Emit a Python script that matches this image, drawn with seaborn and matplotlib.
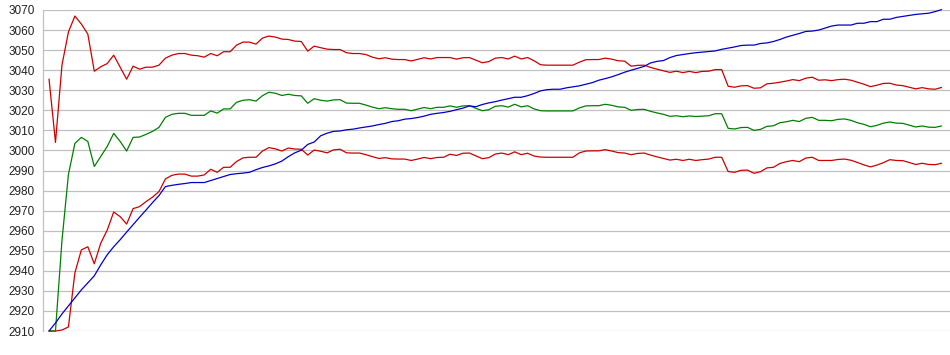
import matplotlib
matplotlib.use("Agg")
import matplotlib.pyplot as plt
import seaborn as sns
import pandas as pd

# values (one point per step)
upper_band = [
    3035.6, 3004.0, 3042.5, 3059.0, 3067.0, 3063.0, 3058.0, 3039.5, 3041.7, 3043.3,
    3047.5, 3041.5, 3035.5, 3042.0, 3040.5, 3041.5, 3041.5, 3042.5, 3046.0, 3047.5,
    3048.3, 3048.3, 3047.5, 3047.2, 3046.5, 3048.3, 3047.2, 3049.2, 3049.2, 3052.5,
    3054.0, 3054.0, 3053.0, 3056.0, 3057.0, 3056.5, 3055.5, 3055.3, 3054.5, 3054.3,
    3049.5, 3052.0, 3051.2, 3050.5, 3050.3, 3050.3, 3048.7, 3048.3, 3048.3, 3047.8,
    3046.5, 3045.7, 3046.2, 3045.5, 3045.3, 3045.3, 3044.6, 3045.4, 3046.2, 3045.6,
    3046.3, 3046.3, 3046.3, 3045.5, 3046.2, 3046.3, 3045.0, 3043.7, 3044.3, 3046.0,
    3046.3, 3045.6, 3047.0, 3045.6, 3046.3, 3044.7, 3042.7, 3042.5, 3042.5, 3042.5,
    3042.5, 3042.5, 3044.0, 3045.2, 3045.3, 3045.3, 3046.0, 3045.5, 3044.7, 3044.5,
    3042.0, 3042.4, 3042.5, 3041.4, 3040.5, 3039.7, 3038.9, 3039.5, 3038.8, 3039.4,
    3038.8, 3039.4, 3039.5, 3040.3, 3040.3, 3032.0, 3031.5, 3032.2, 3032.3, 3031.0,
    3031.2, 3033.2, 3033.5, 3034.0, 3034.6, 3035.3, 3034.8, 3036.0, 3036.5, 3035.0,
    3035.2, 3034.8, 3035.3, 3035.5, 3035.0, 3034.0, 3033.0, 3031.8, 3032.5, 3033.4,
    3033.5, 3032.6, 3032.3, 3031.5, 3030.7, 3031.3, 3030.7, 3030.5, 3031.4,
]

middle = [
    2910.0, 2910.0, 2955.0, 2988.0, 3003.5, 3006.5, 3004.5, 2992.0, 2997.0, 3002.0,
    3008.5, 3004.5, 2999.7, 3006.5, 3006.7, 3008.0, 3009.5, 3011.5, 3016.5, 3018.0,
    3018.5, 3018.5, 3017.5, 3017.5, 3017.5, 3019.7, 3018.6, 3020.7, 3020.7, 3024.0,
    3025.0, 3025.3, 3024.6, 3027.3, 3029.0, 3028.5, 3027.4, 3028.0, 3027.4, 3027.2,
    3023.5, 3025.8, 3025.0, 3024.6, 3025.2, 3025.3, 3023.6, 3023.5, 3023.5, 3022.6,
    3021.6, 3020.8, 3021.3, 3020.8, 3020.5, 3020.5, 3019.8, 3020.6, 3021.4, 3020.8,
    3021.5, 3021.5, 3022.2, 3021.5, 3022.2, 3022.3, 3021.0, 3019.8, 3020.3, 3022.0,
    3022.3, 3021.6, 3023.0, 3021.7, 3022.3, 3020.7, 3019.8, 3019.7, 3019.7, 3019.7,
    3019.7, 3019.7, 3021.2, 3022.2, 3022.3, 3022.3, 3023.0, 3022.5, 3021.7, 3021.5,
    3020.0, 3020.4, 3020.5, 3019.5, 3018.7, 3018.0, 3017.0, 3017.3, 3016.8, 3017.2,
    3016.9, 3017.1, 3017.3, 3018.3, 3018.3, 3011.0, 3010.7, 3011.4, 3011.5, 3010.0,
    3010.5, 3012.0, 3012.3, 3013.8, 3014.3, 3015.0, 3014.4, 3016.0, 3016.5, 3015.0,
    3015.0, 3014.8, 3015.5, 3015.7, 3015.0, 3013.8, 3013.0, 3011.8, 3012.5, 3013.6,
    3014.2, 3013.6, 3013.5, 3012.6, 3011.7, 3012.2, 3011.6, 3011.5, 3012.2,
]

lower_band = [
    2910.0, 2910.0, 2910.5, 2912.0, 2939.0, 2950.4, 2952.0, 2943.5, 2953.8, 2960.3,
    2969.3, 2967.0, 2963.3, 2971.0, 2972.0, 2974.5, 2976.7, 2979.5, 2985.8, 2987.6,
    2988.2, 2988.2, 2987.2, 2987.2, 2987.8, 2990.6, 2989.1, 2991.6, 2991.6, 2994.5,
    2996.3, 2996.6, 2996.6, 2999.7, 3001.4, 3000.8, 2999.7, 3001.2, 3000.7, 3000.6,
    2997.7, 3000.2, 2999.6, 2998.8, 3000.3, 3000.6, 2998.8, 2998.7, 2998.7, 2997.9,
    2996.9, 2996.0, 2996.4, 2995.8, 2995.7, 2995.7, 2995.0, 2995.7, 2996.5, 2995.9,
    2996.5, 2996.6, 2998.1, 2997.5, 2998.6, 2998.7, 2997.3, 2995.9, 2996.4, 2998.2,
    2998.7, 2997.9, 2999.3, 2997.9, 2998.6, 2997.2, 2996.7, 2996.6, 2996.6, 2996.6,
    2996.6, 2996.6, 2998.8, 2999.7, 2999.8, 2999.8, 3000.4, 2999.7, 2998.9, 2998.7,
    2997.9, 2998.5, 2998.7, 2997.7, 2996.8, 2996.0, 2995.2, 2995.6, 2995.0, 2995.6,
    2995.0, 2995.4, 2995.7, 2996.6, 2996.6, 2989.5, 2989.1, 2990.1, 2990.2, 2988.6,
    2989.4, 2991.3, 2991.6, 2993.5, 2994.4, 2995.0, 2994.4, 2996.2, 2996.6, 2995.0,
    2995.0, 2995.0, 2995.5, 2995.7, 2995.1, 2994.0, 2992.8, 2991.8, 2992.7, 2993.9,
    2995.4, 2995.0, 2994.9, 2994.0, 2993.0, 2993.6, 2993.0, 2992.9, 2993.6,
]

running = [
    2910.0, 2914.0, 2918.5, 2922.5, 2926.5, 2930.5, 2934.0, 2937.5, 2943.0, 2948.0,
    2952.0, 2955.5, 2959.3, 2963.0, 2966.7, 2970.3, 2974.0, 2977.5, 2982.0, 2982.6,
    2983.1, 2983.5, 2984.0, 2984.0, 2984.0, 2985.0, 2986.0, 2987.0, 2988.0, 2988.4,
    2988.7, 2989.1, 2990.4, 2991.5, 2992.3, 2993.3, 2994.7, 2996.9, 2998.8, 3000.1,
    3003.0, 3004.2, 3007.3, 3008.6, 3009.5, 3009.7, 3010.3, 3010.6, 3011.2, 3011.7,
    3012.2, 3012.9, 3013.5, 3014.4, 3014.8, 3015.6, 3015.9, 3016.4, 3017.1, 3018.0,
    3018.5, 3018.9, 3019.5, 3020.3, 3021.1, 3022.2, 3021.8, 3022.9, 3023.7, 3024.3,
    3025.1, 3025.8, 3026.5, 3026.5, 3027.3, 3028.4, 3029.7, 3030.3, 3030.5, 3030.5,
    3031.2, 3031.7, 3032.2, 3033.0, 3033.8, 3035.0, 3035.8, 3036.7, 3037.8, 3039.0,
    3040.0, 3040.9, 3041.9, 3043.6, 3044.4, 3044.8, 3046.3, 3047.3, 3047.8, 3048.3,
    3048.7, 3049.0, 3049.3, 3049.6, 3050.4, 3051.0, 3051.6, 3052.3, 3052.5, 3052.5,
    3053.3, 3053.6, 3054.3, 3055.3, 3056.5, 3057.4, 3058.3, 3059.3, 3059.5, 3060.0,
    3061.0, 3062.0, 3062.5, 3062.5, 3062.5, 3063.4, 3063.4, 3064.2, 3064.2, 3065.4,
    3065.4, 3066.3, 3066.8, 3067.3, 3067.8, 3068.1, 3068.4, 3069.2, 3070.2,
]

y_ticks = list(range(2910, 3071, 10))

series = {
    "lower": lower_band,
    "upper": upper_band,
    "middle": middle,
    "running": running,
}
colors = {"lower": "#cc0000", "upper": "#cc0000", "middle": "#008000", "running": "#0000cc"}

frames = []
for name, vals in series.items():
    frames.append(pd.DataFrame({"step": range(len(vals)), "value": vals, "series": name}))
df = pd.concat(frames, ignore_index=True)

sns.set_theme(style="white")
plt.rcParams["font.family"] = ["Liberation Sans", "DejaVu Sans"]

fig = plt.figure(figsize=(9.5, 3.55), dpi=100)
ax = fig.add_axes([43 / 950, 24 / 355, 907 / 950, 321 / 355])

sns.lineplot(
    data=df, x="step", y="value", hue="series", palette=colors,
    linewidth=0.9, legend=False, ax=ax, clip_on=False,
)

ax.set_ylim(2910, 3070)
ax.set_xlim(-0.93, 139.3)
ax.set_yticks(y_ticks)
ax.set_yticklabels([str(t) for t in y_ticks], fontsize=8.5, color="#222222")
ax.set_xticks([])
ax.set_xlabel("")
ax.set_ylabel("")
ax.tick_params(axis="y", length=0, pad=6)
ax.yaxis.grid(True, color="#c0c0c0", linewidth=0.9)
ax.set_axisbelow(True)
for side in ["top", "right", "bottom"]:
    ax.spines[side].set_visible(False)
ax.spines["left"].set_color("#c0c0c0")
ax.spines["left"].set_linewidth(0.9)

fig.savefig("out.png", dpi=100)
